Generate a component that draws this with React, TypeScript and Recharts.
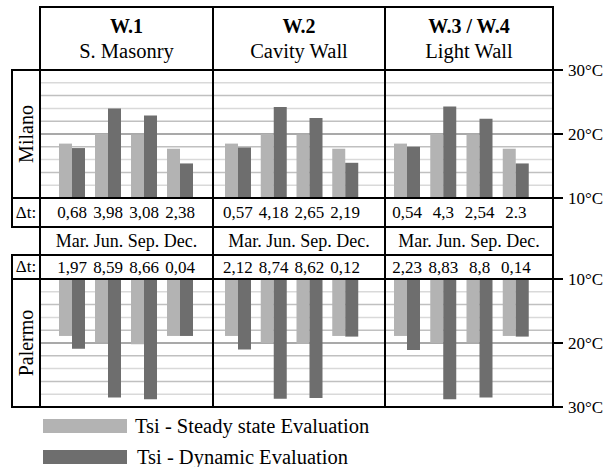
import { BarChart, Bar, XAxis, YAxis, CartesianGrid } from 'recharts';

const months = ['Mar.', 'Jun.', 'Sep.', 'Dec.'];
const wallCodes = ['W.1', 'W.2', 'W.3 / W.4'];
const wallNames = ['S. Masonry', 'Cavity Wall', 'Light Wall'];

// Milano, Tsi in °C
const milanoSteadyW1 = [18.5, 20.0, 19.9, 17.7];
const milanoDynamicW1 = [17.8, 24.0, 22.9, 15.4];
const milanoSteadyW2 = [18.5, 20.0, 19.9, 17.7];
const milanoDynamicW2 = [17.9, 24.2, 22.5, 15.5];
const milanoSteadyW3 = [18.5, 20.0, 19.9, 17.7];
const milanoDynamicW3 = [18.0, 24.3, 22.4, 15.4];
const milanoDtW1 = ['0,68', '3,98', '3,08', '2,38'];
const milanoDtW2 = ['0,57', '4,18', '2,65', '2,19'];
const milanoDtW3 = ['0,54', '4,3', '2,54', '2.3'];

// Palermo, Tsi in °C
const palermoSteadyW1 = [18.9, 19.9, 20.2, 18.9];
const palermoDynamicW1 = [20.9, 28.5, 28.8, 18.9];
const palermoSteadyW2 = [18.9, 20.0, 20.1, 18.9];
const palermoDynamicW2 = [21.0, 28.7, 28.6, 19.0];
const palermoSteadyW3 = [18.9, 20.0, 19.9, 18.9];
const palermoDynamicW3 = [21.1, 28.8, 28.5, 19.0];
const palermoDtW1 = ['1,97', '8,59', '8,66', '0,04'];
const palermoDtW2 = ['2,12', '8,74', '8,62', '0,12'];
const palermoDtW3 = ['2,23', '8,83', '8,8', '0,14'];

const axisTicks = [10, 20, 30];
const gridLight = [12, 16, 24, 28];
const gridMid = [14, 18, 22, 26];
const gridMain = [20];

const legendLabels = ['Tsi - Steady state Evaluation', 'Tsi - Dynamic Evaluation'];

const FONT = '"Liberation Serif", "Times New Roman", serif';
const STEADY = '#b3b3b3';
const DYNAMIC = '#6e6e6e';

const toRows = (steady: number[], dynamic: number[], dt: string[]) =>
  months.map((m, i) => ({ month: m, dt: dt[i], steady: steady[i], dynamic: dynamic[i] }));

const panels = [
  { left: 40, width: 173, padL: 14, padR: 15,
    milano: toRows(milanoSteadyW1, milanoDynamicW1, milanoDtW1),
    palermo: toRows(palermoSteadyW1, palermoDynamicW1, palermoDtW1) },
  { left: 213, width: 172, padL: 7, padR: 22,
    milano: toRows(milanoSteadyW2, milanoDynamicW2, milanoDtW2),
    palermo: toRows(palermoSteadyW2, palermoDynamicW2, palermoDtW2) },
  { left: 385, width: 168, padL: 4, padR: 19,
    milano: toRows(milanoSteadyW3, milanoDynamicW3, milanoDtW3),
    palermo: toRows(palermoSteadyW3, palermoDynamicW3, palermoDtW3) },
];

const makeTick = (dy: number) => (props: any) => (
  <text x={props.x} y={props.y + dy} textAnchor="middle" dominantBaseline="central"
    style={{ fontSize: 17, fontFamily: FONT }} fill="#000">
    {props.payload.value}
  </text>
);
const bottomTick = makeTick(14.5);
const topTick = makeTick(-12);

const TempTick = (props: any) => (
  <text x={props.x} y={props.y} textAnchor="start" dominantBaseline="central"
    style={{ fontSize: 17, fontFamily: FONT }} fill="#000">
    {props.payload.value}°C
  </text>
);

function CityChart({ data, panel, last, city }: any) {
  const milano = city === 'milano';
  return (
    <div style={{ position: 'absolute', left: panel.left, top: milano ? 58 : 255 }}>
      <BarChart
        width={panel.width + (last ? 52 : 0)}
        height={milano ? 169 : 164}
        data={data}
        margin={milano ? { top: 12, right: 0, bottom: 0, left: 0 } : { top: 0, right: 0, bottom: 12, left: 0 }}
        barGap={0}
        barCategoryGap={5}
      >
        <CartesianGrid vertical={false} horizontalValues={gridLight} stroke="#d9d9d9" strokeWidth={1.5} />
        <CartesianGrid vertical={false} horizontalValues={gridMid} stroke="#c0c0c0" strokeWidth={1.5} />
        <CartesianGrid vertical={false} horizontalValues={gridMain} stroke="#8c8c8c" strokeWidth={1.5} />
        <XAxis
          dataKey="dt"
          orientation={milano ? 'bottom' : 'top'}
          height={milano ? 29 : 24}
          axisLine={false}
          tickLine={false}
          tickSize={0}
          tickMargin={0}
          interval={0}
          tick={milano ? bottomTick : topTick}
          padding={{ left: panel.padL, right: panel.padR }}
        />
        <YAxis
          orientation="right"
          domain={[10, 30]}
          ticks={axisTicks}
          reversed={!milano}
          hide={!last}
          width={52}
          axisLine={false}
          tickLine={{ stroke: '#000', strokeWidth: 2 }}
          tickSize={10}
          tickMargin={5}
          tick={TempTick}
        />
        <Bar dataKey="steady" fill={STEADY} isAnimationActive={false} />
        <Bar dataKey="dynamic" fill={DYNAMIC} isAnimationActive={false} />
      </BarChart>
    </div>
  );
}

export default function App() {
  const text = { position: 'absolute' as const, fontFamily: FONT, color: '#000', whiteSpace: 'nowrap' as const };
  const hLines = [
    { y: 7, x1: 40, x2: 553 },
    { y: 70, x1: 12, x2: 553 },
    { y: 198, x1: 12, x2: 553 },
    { y: 227, x1: 12, x2: 553 },
    { y: 255, x1: 12, x2: 553 },
    { y: 279, x1: 12, x2: 553 },
    { y: 407, x1: 12, x2: 553 },
  ];
  const vLines = [
    { x: 12, y1: 70, y2: 227 },
    { x: 12, y1: 255, y2: 407 },
    { x: 40, y1: 7, y2: 407 },
    { x: 213, y1: 7, y2: 407 },
    { x: 385, y1: 7, y2: 407 },
    { x: 553, y1: 7, y2: 407 },
  ];
  return (
    <div style={{ position: 'absolute', left: 0, top: 0, width: 605, height: 467, background: '#fff', overflow: 'hidden' }}>
      {panels.map((p, i) => (
        <CityChart key={'m' + i} data={p.milano} panel={p} last={i === 2} city="milano" />
      ))}
      {panels.map((p, i) => (
        <CityChart key={'p' + i} data={p.palermo} panel={p} last={i === 2} city="palermo" />
      ))}

      {panels.map((p, i) => (
        <div key={'h' + i}>
          <div style={{ ...text, left: p.left, width: p.width, top: 13, lineHeight: '26px', textAlign: 'center', fontSize: 20, fontWeight: 'bold' }}>
            {wallCodes[i]}
          </div>
          <div style={{ ...text, left: p.left, width: p.width, top: 38, lineHeight: '26px', textAlign: 'center', fontSize: 20.5 }}>
            {wallNames[i]}
          </div>
          <div style={{ ...text, left: p.left, width: p.width, top: 227, lineHeight: '28px', textAlign: 'center', fontSize: 18 }}>
            {months.join(' ')}
          </div>
        </div>
      ))}

      <div style={{ ...text, left: 26, top: 134, fontSize: 20, transform: 'translate(-50%, -50%) rotate(-90deg)' }}>Milano</div>
      <div style={{ ...text, left: 26, top: 343, fontSize: 20, transform: 'translate(-50%, -50%) rotate(-90deg)' }}>Palermo</div>
      <div style={{ ...text, left: 26, top: 212.5, fontSize: 17, transform: 'translate(-50%, -50%)' }}>Δt:</div>
      <div style={{ ...text, left: 26, top: 267, fontSize: 17, transform: 'translate(-50%, -50%)' }}>Δt:</div>

      <svg width={605} height={467} style={{ position: 'absolute', left: 0, top: 0, pointerEvents: 'none' }}>
        {hLines.map((l, i) => <line key={'h' + i} x1={l.x1 - 1} x2={l.x2 + 1} y1={l.y} y2={l.y} stroke="#000" strokeWidth={2} />)}
        {vLines.map((l, i) => <line key={'v' + i} x1={l.x} x2={l.x} y1={l.y1 - 1} y2={l.y2 + 1} stroke="#000" strokeWidth={2} />)}
      </svg>

      {legendLabels.map((label, i) => (
        <div key={label}>
          <div style={{ position: 'absolute', left: 43, top: 419 + i * 31, width: 84, height: 14, background: i === 0 ? STEADY : DYNAMIC }} />
          <div style={{ ...text, left: 135 + i * 2, top: 426 + i * 31, fontSize: 20.5, transform: 'translateY(-50%)' }}>{label}</div>
        </div>
      ))}
    </div>
  );
}
